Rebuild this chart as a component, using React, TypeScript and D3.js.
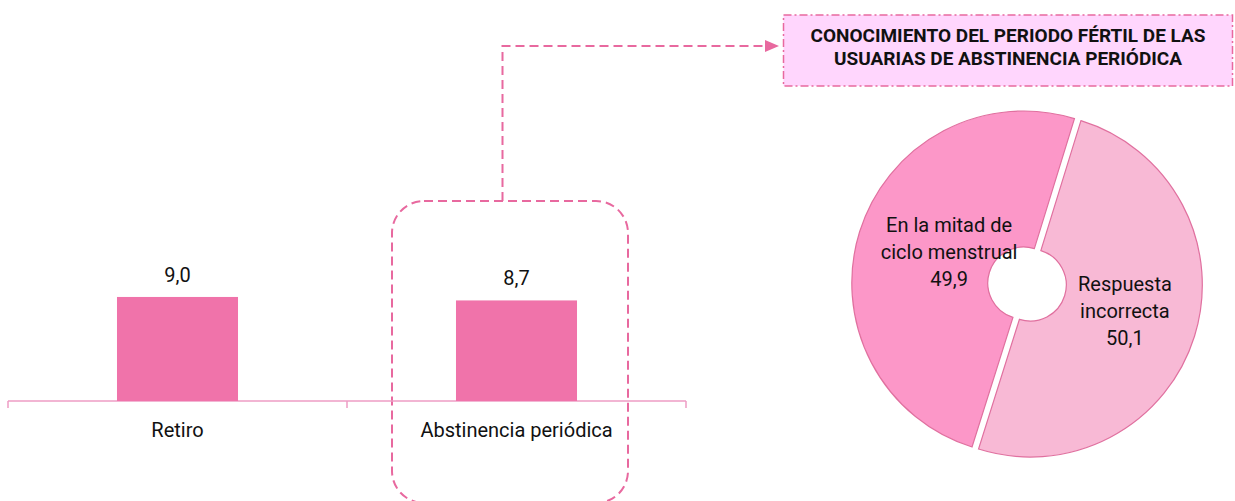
import React from "react";
import * as d3 from "d3";

const barCategories = ["Retiro", "Abstinencia periódica"];
const barValues = [9.0, 8.7];
const barLabels = ["9,0", "8,7"];

const pieCategories = [["En la mitad de", "ciclo menstrual"], ["Respuesta", "incorrecta"]];
const pieValues = [49.9, 50.1];
const pieLabels = ["49,9", "50,1"];

const titleLines = ["CONOCIMIENTO DEL PERIODO FÉRTIL DE LAS", "USUARIAS DE ABSTINENCIA PERIÓDICA"];

const W = 1235;
const H = 501;
const FONT = "Roboto, 'Liberation Sans', Arial, sans-serif";
const PINK = "#e8699f";

export default function App() {
  const x = d3.scaleBand<string>().domain(barCategories).range([8, 686]).padding(0);
  const y = d3.scaleLinear().domain([0, 10]).range([401, 285.4]);
  const barW = x.bandwidth() * 0.357;

  const cx = 1027;
  const cy = 284;
  const R = 172;
  const r0 = 36;
  const deg = Math.PI / 180;
  const pie = d3
    .pie<number>()
    .sort(null)
    .startAngle(197.5 * deg)
    .endAngle(557.5 * deg);
  const arcs = pie(pieValues);
  const arc = d3.arc<d3.PieArcDatum<number>>().innerRadius(r0).outerRadius(R);
  const labelArc = d3.arc<d3.PieArcDatum<number>>().innerRadius(40).outerRadius(140);
  const pieFills = ["#fc97c8", "#f8b9d5"];
  const explode = 3.4;
  const labelShift = [[8, -5], [12, 0]];

  return (
    <svg width={W} height={H} style={{ position: "absolute", left: 0, top: 0 }}>
      <rect x={0} y={0} width={W} height={H} fill="#ffffff" />
      {/* dashed rounded highlight */}
      <rect x={392} y={201} width={236} height={302} rx={32} ry={32} fill="none" stroke={PINK} strokeWidth={2} strokeDasharray="9,5" />
      {/* connector */}
      <path d="M502.5,201 V46 H766" fill="none" stroke={PINK} strokeWidth={2} strokeDasharray="9,5" />
      <path d="M765,40 L779,46 L765,52 Z" fill={PINK} />

      {/* axis */}
      <line x1={8} x2={686} y1={y(0)} y2={y(0)} stroke="#ee9cc4" strokeWidth={1.5} />
      {[...barCategories.map((c) => x(c) as number), 686].map((t, i) => (
        <line key={i} x1={t} x2={t} y1={y(0)} y2={y(0) + 7} stroke="#ee9cc4" strokeWidth={1.5} />
      ))}
      {barCategories.map((c, i) => {
        const cxb = (x(c) as number) + x.bandwidth() / 2;
        return (
          <g key={c}>
            <rect x={cxb - barW / 2} y={y(barValues[i])} width={barW} height={y(0) - y(barValues[i])} fill="#f073aa" />
            <text x={cxb} y={y(barValues[i]) - 15} textAnchor="middle" fontFamily={FONT} fontSize={20} fill="#111">
              {barLabels[i]}
            </text>
            <text x={cxb} y={437} textAnchor="middle" fontFamily={FONT} fontSize={20} fill="#111">
              {c}
            </text>
          </g>
        );
      })}

      {/* title box */}
      <rect x={783.5} y={15} width={449} height={71} fill="#ffd6fd" stroke={PINK} strokeWidth={1.5} strokeDasharray="8,3,2,3" />
      {titleLines.map((t, i) => (
        <text key={i} x={1008} y={42 + i * 23} textAnchor="middle" fontFamily={FONT} fontWeight="bold" fontSize={19} fill="#111">
          {t}
        </text>
      ))}

      {/* donut */}
      <g transform={`translate(${cx},${cy})`}>
        {arcs.map((a, i) => {
          const mid = (a.startAngle + a.endAngle) / 2;
          const dx = Math.sin(mid) * explode;
          const dy = -Math.cos(mid) * explode;
          return (
            <path key={i} d={arc(a) as string} transform={`translate(${dx},${dy})`} fill={pieFills[i]} stroke="#e0709f" strokeWidth={1.2} />
          );
        })}
        {arcs.map((a, i) => {
          const [lx, ly] = labelArc.centroid(a);
          const lines = [...pieCategories[i], pieLabels[i]];
          const x0 = lx + labelShift[i][0];
          const y0 = ly + labelShift[i][1] - 27 + 7;
          return (
            <text key={"l" + i} textAnchor="middle" fontFamily={FONT} fontSize={20} fill="#111">
              {lines.map((s, j) => (
                <tspan key={j} x={x0} y={y0 + j * 27}>
                  {s}
                </tspan>
              ))}
            </text>
          );
        })}
      </g>
    </svg>
  );
}
